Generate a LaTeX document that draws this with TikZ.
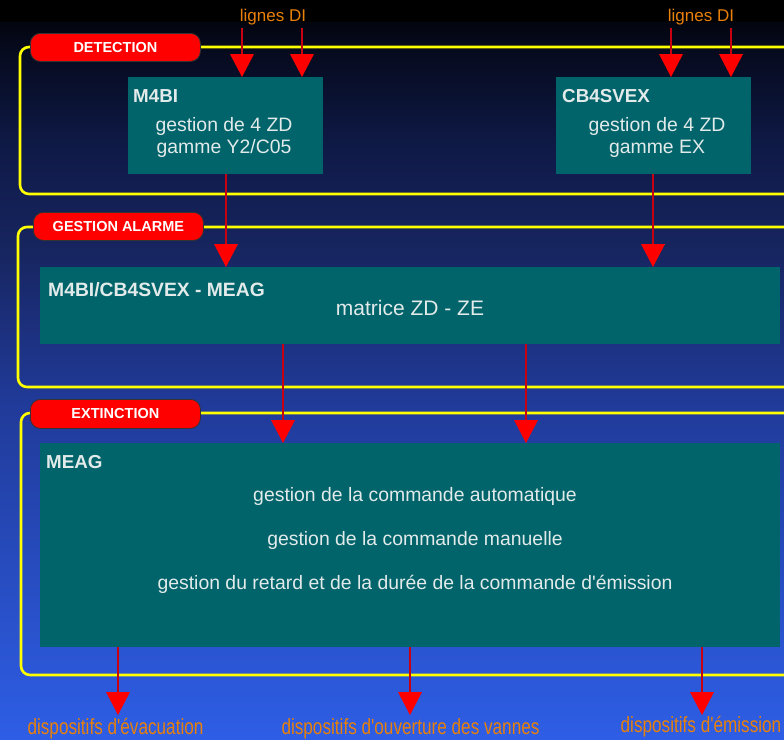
\documentclass[tikz,border=0pt]{standalone}
\usepackage{fontspec}
\setmainfont{Liberation Sans}
\usetikzlibrary{arrows.meta}
\definecolor{teal0}{HTML}{00646A}
\definecolor{frameY}{HTML}{FFFF00}
\definecolor{lblred}{HTML}{FF0000}
\definecolor{linered}{HTML}{C80010}
\definecolor{orangeT}{HTML}{E8800A}
\definecolor{boxtext}{HTML}{E2EAEA}
\definecolor{bgA}{HTML}{2E5EE6}
\definecolor{bgB}{HTML}{203A98}
\definecolor{bgC}{HTML}{172560}
\definecolor{bgD}{HTML}{0F1A48}
\definecolor{bgE}{HTML}{070C22}
\definecolor{bgF}{HTML}{03050F}
\pgfdeclareverticalshading{bgshade}{100bp}{color(0bp)=(bgA); color(25bp)=(bgA); color(48.6bp)=(bgB); color(59.1bp)=(bgC); color(66.1bp)=(bgD); color(72.35bp)=(bgE); color(75bp)=(bgF); color(100bp)=(bgF)}
\begin{document}
\begin{tikzpicture}[x=1pt,y=-1pt,
 box/.style={fill=teal0, draw=none, inner sep=0pt, anchor=north west},
 ttl/.style={text=boxtext, font=\bfseries\fontsize{18.8}{22}\selectfont, inner sep=0pt, anchor=base west},
 txt/.style={text=boxtext, font=\fontsize{19.4}{22}\selectfont, inner sep=0pt, anchor=base},
 frame/.style={draw=frameY, line width=2.6pt, rounded corners=9pt},
 tag/.style={fill=lblred, draw=black!80, line width=0.8pt, rounded corners=10pt, text=white, font=\bfseries\fontsize{14.5}{16}\selectfont, minimum width=170pt, minimum height=28pt, inner sep=0pt, anchor=north west},
 conn/.style={draw=linered, line width=1.3pt, -{Triangle[width=24pt,length=23pt,fill=lblred,color=lblred,line width=0pt]}},
 ext/.style={text=orangeT, inner sep=0pt, anchor=base},
 outlbl/.style={text=orangeT, inner sep=0pt, anchor=base, font=\fontsize{22}{24}\selectfont}
]
\useasboundingbox (0,0) rectangle (784,739);
\clip (0,0) rectangle (784,739);
% background
\fill[black] (0,0) rectangle (784,23);
\shade[shading=bgshade] (0,22) rectangle (784,739);

% frames
\draw[frame] (20,47) rectangle (810,194);
\draw[frame] (18,227) rectangle (810,387);
\draw[frame] (21,413) rectangle (810,675);

% frame tags
\node[tag] (tagdet) at (30,33) {DETECTION};
\node[tag] (tagalm) at (33,212) {GESTION ALARME};
\node[tag, minimum height=29pt] (tagext) at (30,399) {EXTINCTION};

% boxes
\node[box, minimum width=195pt, minimum height=97pt] (m4bi) at (128,77) {};
\node[box, minimum width=195pt, minimum height=97pt] (cb) at (556,77) {};
\node[box, minimum width=740pt, minimum height=77pt] (matrix) at (40,267) {};
\node[box, minimum width=740pt, minimum height=204pt] (meag) at (40,443) {};

% box texts
\node[ttl] (m4bit) at (133,102) {M4BI};
\node[txt] (m4bil1) at (224,131) {gestion de 4 ZD};
\node[txt] (m4bil2) at (224,153) {gamme Y2/C05};
\node[ttl] (cbt) at (562,102) {CB4SVEX};
\node[txt] (cbl1) at (657,131) {gestion de 4 ZD};
\node[txt] (cbl2) at (657,153) {gamme EX};
\node[ttl, font=\bfseries\fontsize{19.3}{22}\selectfont] (matt) at (48,296) {M4BI/CB4SVEX - MEAG};
\node[txt, font=\fontsize{21}{24}\selectfont] (matl) at (410,315) {matrice ZD - ZE};
\node[ttl] (meagt) at (46,468) {MEAG};
\node[txt] (meagl1) at (415,501.7) {gestion de la commande automatique};
\node[txt] (meagl2) at (415,545) {gestion de la commande manuelle};
\node[txt] (meagl3) at (415,589) {gestion du retard et de la durée de la commande d\textquotesingle émission};

% input labels
\node[ext, font=\fontsize{17}{20}\selectfont] (di1lbl) at (273,21.7) {lignes DI};
\node[ext, font=\fontsize{17}{20}\selectfont] (di2lbl) at (701,21.7) {lignes DI};

% output labels
\node[outlbl] (out1) at (115.5,734) {\scalebox{0.78}[1]{dispositifs d\textquotesingle évacuation}};
\node[outlbl] (out2) at (410.5,734) {\scalebox{0.78}[1]{dispositifs d\textquotesingle ouverture des vannes}};
\node[outlbl] (out3) at (701,732) {\scalebox{0.78}[1]{dispositifs d\textquotesingle émission}};

% helper coordinates
\coordinate (di1) at (242,28);
\coordinate (di2) at (302,28);
\coordinate (di3) at (671,28);
\coordinate (di4) at (731,28);
\coordinate (m4o) at (226,174);
\coordinate (cbo) at (653,174);
\coordinate (mx1) at (283,344);
\coordinate (mx2) at (526,344);
\coordinate (t1) at (118,715);
\coordinate (t2) at (410,715);
\coordinate (t3) at (702,715);

% connectors
\draw[conn] (di1) -- (di1 |- m4bi.north);
\draw[conn] (di2) -- (di2 |- m4bi.north);
\draw[conn] (di3) -- (di3 |- cb.north);
\draw[conn] (di4) -- (di4 |- cb.north);
\draw[conn] (m4o |- m4bi.south) -- (m4o |- matrix.north);
\draw[conn] (cbo |- cb.south) -- (cbo |- matrix.north);
\draw[conn] (mx1 |- matrix.south) -- (mx1 |- meag.north);
\draw[conn] (mx2 |- matrix.south) -- (mx2 |- meag.north);
\draw[conn] (t1 |- meag.south) -- (t1);
\draw[conn] (t2 |- meag.south) -- (t2);
\draw[conn] (t3 |- meag.south) -- (t3);
\end{tikzpicture}
\end{document}
